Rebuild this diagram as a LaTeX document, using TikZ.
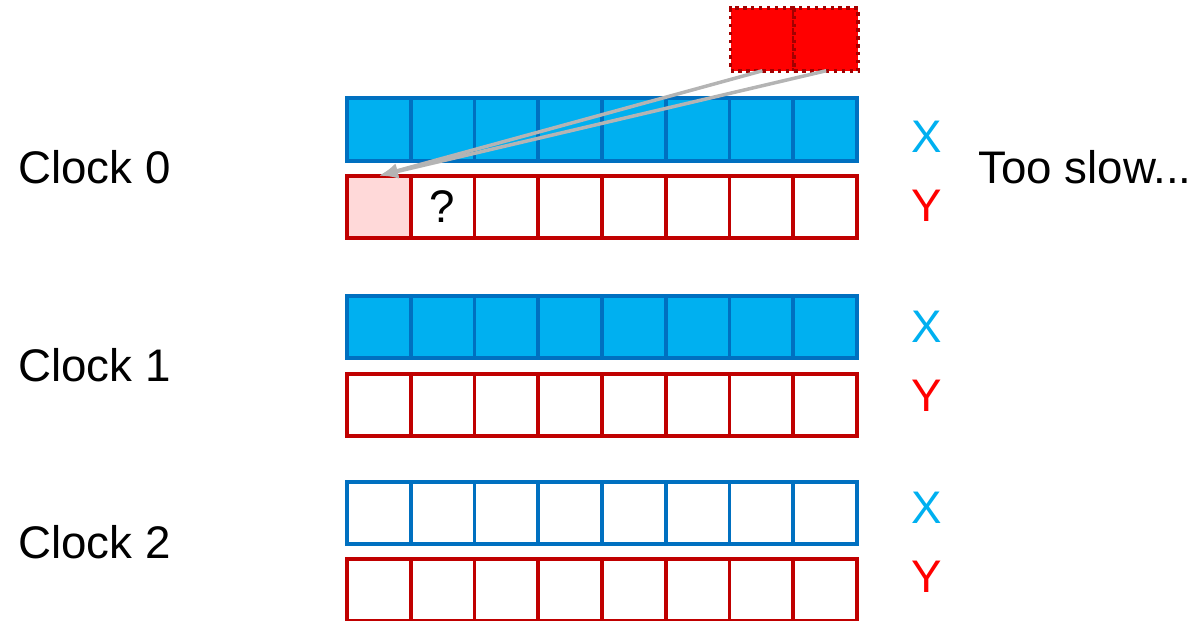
\documentclass[tikz,border=0pt]{standalone}
\usepackage{fontspec}
\setmainfont{Liberation Sans}
\usetikzlibrary{arrows.meta,positioning}
\definecolor{XFill}{HTML}{00B0F0}
\definecolor{XLine}{HTML}{0070C0}
\definecolor{YLine}{HTML}{C00000}
\definecolor{YText}{HTML}{FF0000}
\definecolor{HitFill}{HTML}{FFD9D9}
\definecolor{ArrowGray}{HTML}{B4B4B4}

\begin{document}
\begin{tikzpicture}[
  x=0.02cm, y=-0.02cm,
  cell/.style={draw, line width=0.075cm, minimum width=1.275cm, minimum height=1.25cm, inner sep=0pt, outer sep=0pt, font=\fontsize{26}{31}\selectfont},
  xcell/.style={cell, draw=XLine, fill=XFill},
  xempty/.style={cell, draw=XLine, fill=white},
  ycell/.style={cell, draw=YLine, fill=white},
  incell/.style={cell, line width=2.2pt, draw=YLine!85!black, fill=red, dash pattern=on 2pt off 2.5pt},
  lbl/.style={inner sep=0pt, font=\fontsize{26}{31}\selectfont},
  arrow/.style={-{Latex[length=0.38cm,width=0.3cm]}, line width=0.07cm, draw=ArrowGray}
]
\useasboundingbox (0,0) rectangle (1197,620);

% clock 0
\foreach \i in {1,...,8}
  \node[xcell] (c0x\i) at ({347+63.75*(\i-0.5)},129.5) {};
\node[ycell, fill=HitFill] (c0y1) at (378.9,207) {};
\node[ycell, right=0pt of c0y1] (c0y2) {?};
\foreach \i in {3,...,8}
  \node[ycell] (c0y\i) at ({347+63.75*(\i-0.5)},207) {};

% clock 1
\foreach \i in {1,...,8} {
  \node[xcell] (c1x\i) at ({347+63.75*(\i-0.5)},327) {};
  \node[ycell] (c1y\i) at ({347+63.75*(\i-0.5)},405) {};
}

% clock 2
\foreach \i in {1,...,8} {
  \node[xempty] (c2x\i) at ({347+63.75*(\i-0.5)},513) {};
  \node[ycell] (c2y\i) at ({347+63.75*(\i-0.5)},590) {};
}

% incoming values
\node[incell] (in1) at (762.4,39.5) {};
\node[incell, right=0pt of in1] (in2) {};

\draw[arrow] (in1.south) -- (c0y1.north);
\draw[arrow] (in2.south) -- (c0y1.north);

% labels
\node[lbl, anchor=base west] (clk0) at (18,183) {Clock 0};
\node[lbl, anchor=base west] (clk1) at (18,381) {Clock 1};
\node[lbl, anchor=base west] (clk2) at (18,558) {Clock 2};

\node[lbl, anchor=base, text=XFill] (x0) at (927,152) {X};
\node[lbl, anchor=base, text=YText] (y0) at (927,221) {Y};
\node[lbl, anchor=base, text=XFill] (x1) at (927,342) {X};
\node[lbl, anchor=base, text=YText] (y1) at (927,411) {Y};
\node[lbl, anchor=base, text=XFill] (x2) at (927,523) {X};
\node[lbl, anchor=base, text=YText] (y2) at (927,592) {Y};

\node[lbl, anchor=base west] (slow) at (978,183) {Too slow...};
\end{tikzpicture}
\end{document}
